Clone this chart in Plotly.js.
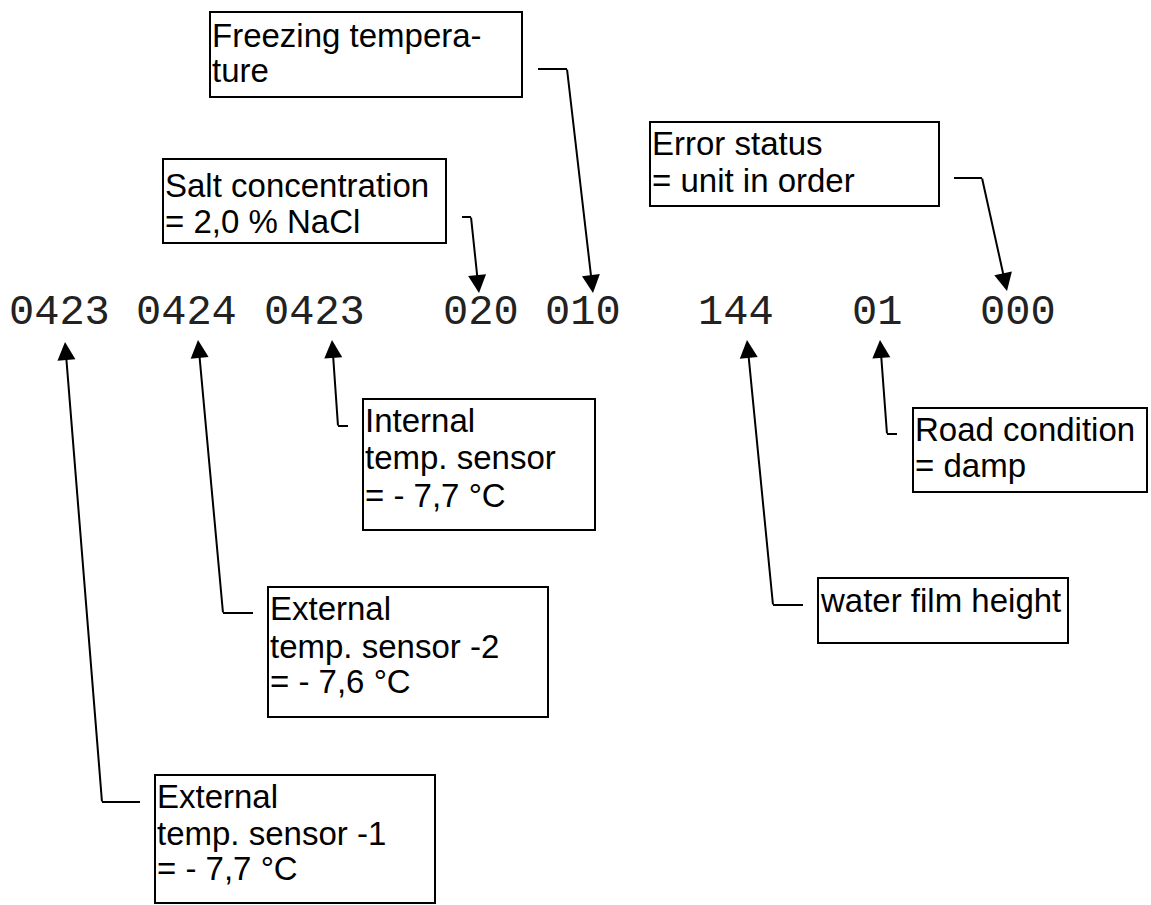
<!DOCTYPE html>
<html>
<head>
<meta charset="utf-8">
<script src="https://cdn.plot.ly/plotly-3.0.1.min.js"></script>
<style>html,body{margin:0;padding:0;background:#fff;}#chart{width:1151px;height:905px;}</style>
</head>
<body>
<div id="chart"></div>
<script>
// ---- data: the telegram fields and their meaning ----
const codeGroups = ['0423', '0424', '0423', '020', '010', '144', '01', '000'];
const fieldLabels = [
  ['Freezing tempera-', 'ture'],
  ['Salt concentration', '= 2,0 % NaCl'],
  ['Error status', '= unit in order'],
  ['Internal', 'temp. sensor', '= - 7,7 °C'],
  ['Road condition', '= damp'],
  ['water film height'],
  ['External', 'temp. sensor -2', '= - 7,6 °C'],
  ['External', 'temp. sensor -1', '= - 7,7 °C']
];

// ---- layout geometry (pixel space of the drawing) ----
const codeCenters = [59.5, 186, 314, 481, 583, 735.5, 876.5, 1018];
const codeMidY = 313;
const boxRects = [
  [210, 12, 522, 97],
  [163, 159, 446, 243],
  [650, 122, 939, 206],
  [363, 399, 595, 530],
  [913, 408, 1147, 492],
  [818, 578, 1068, 643],
  [268, 587, 548, 717],
  [155, 775, 435, 903]
];
const lineBaselines = [
  [47, 82],
  [197, 233],
  [155, 192],
  [432, 469, 507],
  [441, 477],
  [612],
  [620, 658, 693],
  [808, 845, 880]
];
const leaders = [ // [start, bend, arrow tip]
  [[538, 69], [567, 69], [593, 293]],
  [[462, 217], [471, 217], [479, 293]],
  [[954, 178], [982, 178], [1007, 291]],
  [[348, 426], [338, 426], [332, 340]],
  [[897, 434], [887, 434], [880, 340]],
  [[803, 605], [773, 605], [747, 340]],
  [[253, 613], [223, 613], [198, 340]],
  [[140, 802], [102, 802], [65, 342]]
];

const LABEL_SIZE = 33;
const shapes = [];
const annotations = [];

// code groups
codeGroups.forEach((c, i) => {
  annotations.push({
    x: codeCenters[i], y: codeMidY, xref: 'x', yref: 'y',
    text: c, showarrow: false, xanchor: 'center', yanchor: 'middle',
    font: {family: 'Liberation Mono, Courier New, monospace', size: 42, color: '#222'}
  });
});

// boxes with labels
fieldLabels.forEach((lines, i) => {
  const r = boxRects[i];
  shapes.push({type: 'rect', xref: 'x', yref: 'y', x0: r[0], y0: r[1], x1: r[2], y1: r[3],
    line: {color: '#000', width: 2}, fillcolor: 'rgba(0,0,0,0)'});
  lines.forEach((t, j) => {
    annotations.push({
      x: r[0] + 1, y: lineBaselines[i][j] - 0.35 * LABEL_SIZE, xref: 'x', yref: 'y',
      text: t, showarrow: false, xanchor: 'left', yanchor: 'middle', borderpad: 0,
      font: {family: 'Liberation Sans, Arial, sans-serif', size: LABEL_SIZE, color: '#000'}
    });
  });
});

// leader lines with arrows
leaders.forEach(L => {
  shapes.push({type: 'line', xref: 'x', yref: 'y', x0: L[0][0], y0: L[0][1], x1: L[1][0], y1: L[1][1],
    line: {color: '#000', width: 2}});
  annotations.push({
    x: L[2][0], y: L[2][1], ax: L[1][0], ay: L[1][1],
    xref: 'x', yref: 'y', axref: 'x', ayref: 'y',
    text: '', showarrow: true, arrowhead: 2, arrowsize: 1.8, arrowwidth: 2,
    arrowcolor: '#000', standoff: 0, startstandoff: 0, borderpad: 0
  });
});

const layout = {
  width: 1151, height: 905,
  margin: {l: 0, r: 0, t: 0, b: 0, pad: 0},
  paper_bgcolor: '#fff', plot_bgcolor: '#fff',
  showlegend: false,
  xaxis: {range: [0, 1151], visible: false, fixedrange: true},
  yaxis: {range: [905, 0], visible: false, fixedrange: true},
  shapes: shapes,
  annotations: annotations
};

Plotly.newPlot('chart', [], layout, {staticPlot: true, displayModeBar: false});
</script>
</body>
</html>
